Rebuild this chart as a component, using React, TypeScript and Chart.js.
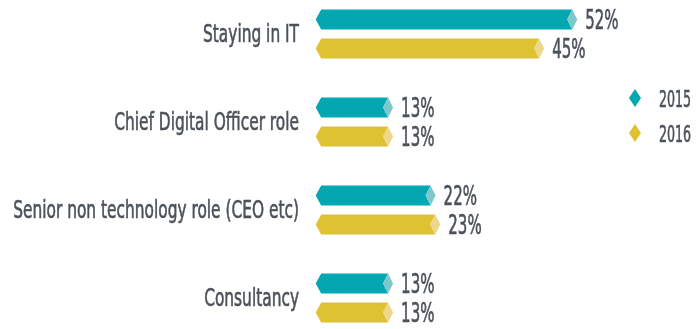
import React, { useEffect, useRef } from "react";
import { Chart, registerables } from "chart.js";

Chart.register(...registerables);

const categories = [
  "Staying in IT",
  "Chief Digital Officer role",
  "Senior non technology role (CEO etc)",
  "Consultancy",
];
const seriesNames = ["2015", "2016"];
const values2015 = [52, 13, 22, 13];
const values2016 = [45, 13, 23, 13];

const COLORS = ["#02a7b1", "#dfc232"];
const LIGHT = ["#7cc8cd", "#ecd78c"];
const TEXT = "#4d5259";
const FONT = "'Liberation Sans Narrow', 'DejaVu Sans Condensed', sans-serif";

function drawText(ctx: any, text: string, x: number, y: number, size: number, align: string, squeeze: number) {
  ctx.save();
  ctx.fillStyle = TEXT;
  ctx.strokeStyle = TEXT;
  ctx.lineWidth = 0.6;
  ctx.font = `${size}px ${FONT}`;
  ctx.textBaseline = "alphabetic";
  ctx.textAlign = align;
  ctx.translate(x, y);
  ctx.scale(squeeze, 1);
  ctx.fillText(text, 0, 0);
  ctx.strokeText(text, 0, 0);
  ctx.restore();
}

const shapesPlugin = {
  id: "shapes",
  afterDatasetsDraw(chart: any) {
    const ctx = chart.ctx;
    const yScale = chart.scales.y;
    // category labels
    chart.data.labels.forEach((lab: string, i: number) => {
      const cy = yScale.getPixelForTick(i);
      drawText(ctx, lab, 299, cy + 8, 25, "right", 0.685);
    });
    chart.data.datasets.forEach((ds: any, di: number) => {
      const meta = chart.getDatasetMeta(di);
      meta.data.forEach((el: any, i: number) => {
        const tip = el.x;
        const base = el.base;
        const h = el.height;
        const top = el.y - h / 2;
        const bot = el.y + h / 2;
        const mid = el.y;
        const left = base - 16;
        const dw = 10;
        ctx.save();
        ctx.fillStyle = COLORS[di];
        ctx.beginPath();
        ctx.moveTo(left, mid);
        ctx.lineTo(left + 5.5, top);
        ctx.lineTo(tip - dw / 2, top);
        ctx.lineTo(tip - dw, mid);
        ctx.lineTo(tip - dw / 2, bot);
        ctx.lineTo(left + 5.5, bot);
        ctx.closePath();
        ctx.fill();
        ctx.fillStyle = LIGHT[di];
        ctx.beginPath();
        ctx.moveTo(tip - dw, mid);
        ctx.lineTo(tip - dw / 2, top);
        ctx.lineTo(tip, mid);
        ctx.lineTo(tip - dw / 2, bot);
        ctx.closePath();
        ctx.fill();
        ctx.restore();
        drawText(ctx, ds.data[i] + "%", tip + 8, mid + 9.5, 26.5, "left", 0.63);
      });
    });
    // legend
    const lx = 635;
    const ly = [98, 133];
    seriesNames.forEach((name, di) => {
      ctx.save();
      ctx.fillStyle = COLORS[di];
      ctx.beginPath();
      ctx.moveTo(lx, ly[di] - 9);
      ctx.lineTo(lx + 6, ly[di]);
      ctx.lineTo(lx, ly[di] + 9);
      ctx.lineTo(lx - 6, ly[di]);
      ctx.closePath();
      ctx.fill();
      ctx.restore();
      drawText(ctx, name, 659, ly[di] + 8.5, 23, "left", 0.61);
    });
  },
};

export default function App() {
  const ref = useRef<HTMLCanvasElement>(null);
  useEffect(() => {
    document.body.style.margin = "0";
    const chart = new Chart(ref.current!, {
      type: "bar",
      data: {
        labels: categories,
        datasets: [
          { label: seriesNames[0], data: values2015, backgroundColor: "rgba(0,0,0,0)" },
          { label: seriesNames[1], data: values2016, backgroundColor: "rgba(0,0,0,0)" },
        ],
      },
      options: {
        indexAxis: "y",
        animation: false,
        responsive: false,
        maintainAspectRatio: false,
        categoryPercentage: 0.659,
        barPercentage: 0.69,
        layout: { padding: { top: 34, bottom: 31, left: 0, right: 0 } },
        plugins: { legend: { display: false }, tooltip: { enabled: false } },
        scales: {
          x: { display: false, min: 0, max: 78 },
          y: {
            offset: false,
            grid: { display: false, drawTicks: false },
            border: { display: false },
            ticks: { display: false },
            afterFit: (scale: any) => {
              scale.width = 331.7;
            },
          },
        },
      } as any,
      plugins: [shapesPlugin],
    });
    return () => chart.destroy();
  }, []);
  return (
    <div style={{ width: 700, height: 329 }}>
      <canvas ref={ref} width={700} height={329} style={{ display: "block" }} />
    </div>
  );
}
